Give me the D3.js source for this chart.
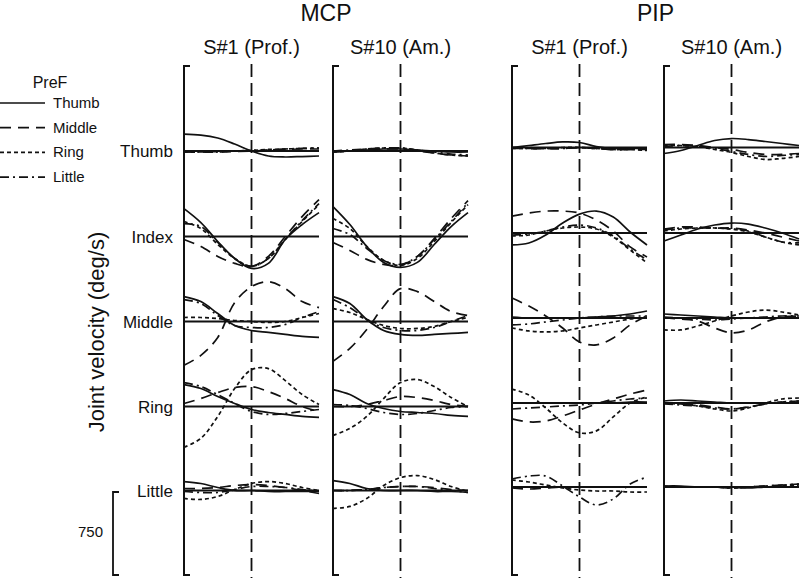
<!DOCTYPE html>
<html>
<meta charset="utf-8">
<head>
<title>joint velocity</title>
<script src="https://cdnjs.cloudflare.com/ajax/libs/d3/7.8.5/d3.min.js"></script>
<style>
body { margin:0; background:#fff; }
text { font-family: "Liberation Sans", Arial, sans-serif; fill:#111; }
</style>
</head>
<body>
<div id="chart"></div>
<script>

// time samples (% of movement, 0 = centre line)
var timePts = [-100, -75, -50, -25, 0, 25, 50, 75, 100];
var joints = ["MCP", "PIP"];
var subjects = ["S#1 (Prof.)", "S#10 (Am.)"];
var rows = ["Thumb", "Index", "Middle", "Ring", "Little"];
var preF = ["Thumb", "Middle", "Ring", "Little"];
var scaleBar = 750; // deg/s

// each row: [Thumb, Middle, Ring, Little] PreF curves, deg/s
var mcp1Thumb = [[153,144,117,63,0,-45,-54,-50,-45],[-9,-9,-9,-5,0,9,14,18,18],[-9,-9,-5,0,5,14,18,23,27],[-9,-9,-9,0,5,9,18,23,27]];
var mcp1Index = [[252,126,-45,-198,-288,-243,-27,108,216],[-27,-90,-180,-243,-270,-180,0,180,333],[135,72,-72,-198,-270,-198,-27,135,288],[117,90,-54,-198,-270,-198,-27,144,297]];
var mcp1Middle = [[225,180,72,-36,-81,-99,-117,-135,-144],[-396,-306,-144,171,315,360,297,180,126],[36,36,27,9,0,-9,0,36,72],[198,162,54,-36,-54,-54,-27,36,90]];
var mcp1Ring = [[198,162,90,27,-27,-54,-72,-90,-99],[27,72,126,171,180,135,72,0,-45],[-369,-288,-90,162,333,342,234,108,18],[216,180,108,27,-45,-72,-63,-45,-27]];
var mcp1Little = [[81,63,27,0,0,-9,-9,-9,-9],[18,18,27,45,54,45,27,0,-27],[-72,-81,-54,9,63,81,63,27,0],[-9,-18,-18,9,36,36,27,9,-9]];

var mcp10Thumb = [[-9,0,9,18,18,9,0,-9,-9],[-9,0,9,18,18,0,-18,-36,-45],[-9,0,18,27,27,9,-18,-36,-45],[0,9,18,27,27,9,-9,-27,-36]];
var mcp10Index = [[270,108,-90,-234,-279,-234,-72,90,216],[-54,-126,-207,-252,-261,-180,-18,162,324],[162,72,-90,-216,-261,-198,-45,126,288],[72,18,-108,-216,-252,-180,-27,135,306]];
var mcp10Middle = [[225,162,18,-81,-117,-126,-117,-108,-99],[-360,-243,-72,135,297,270,180,90,54],[117,81,18,-36,-63,-63,-45,0,36],[198,126,18,-54,-81,-81,-54,0,54]];
var mcp10Ring = [[153,108,27,-18,-45,-54,-63,-81,-90],[0,0,18,54,90,81,54,18,0],[-261,-198,-90,72,216,243,180,81,0],[18,9,-18,-54,-72,-63,-36,-9,0]];
var mcp10Little = [[90,63,18,0,0,0,-9,-9,-18],[0,0,9,27,36,36,27,9,0],[-162,-144,-72,45,117,135,99,36,-9],[0,0,9,27,36,36,18,0,-18]];

var pip1Thumb = [[0,18,36,50,45,9,-9,-9,-9],[-9,-9,-9,-9,0,-9,-18,-18,-18],[-9,-9,-9,0,0,-9,-18,-18,-27],[0,-9,-9,-9,0,-9,-18,-18,-18]];
var pip1Index = [[-108,-90,-18,90,171,198,144,9,-108],[153,180,198,198,180,117,18,-126,-216],[-27,-18,18,45,54,36,-36,-153,-270],[-18,-9,18,54,72,45,-27,-144,-243]];
var pip1Middle = [[9,0,0,0,0,9,18,36,63],[180,108,18,-90,-216,-243,-180,-63,18],[-90,-117,-126,-117,-90,-63,-36,-9,9],[-63,-54,-36,-18,0,9,18,18,18]];
var pip1Ring = [[0,0,0,0,0,0,0,9,9],[-144,-171,-162,-117,-63,-9,36,81,117],[126,72,-45,-180,-270,-252,-126,0,54],[-54,-45,-36,-27,-18,0,18,36,45]];
var pip1Little = [[0,0,0,0,0,0,0,0,0],[-9,-18,-9,0,0,0,0,0,0],[63,45,18,-9,-27,-36,-36,-45,-45],[72,99,99,9,-90,-162,-108,27,90]];

var pip10Thumb = [[-54,-27,18,63,81,72,54,36,18],[27,27,18,0,-18,-45,-63,-63,-54],[18,18,9,-18,-45,-81,-108,-99,-81],[9,18,9,-9,-36,-63,-81,-72,-63]];
var pip10Index = [[-72,-18,36,72,90,81,45,0,-54],[36,54,54,45,45,27,0,-36,-72],[18,36,45,45,36,9,-36,-81,-108],[27,45,45,45,36,18,-36,-81,-90]];
var pip10Middle = [[36,27,18,9,0,0,0,0,0],[0,-9,-27,-90,-135,-108,-36,9,18],[-108,-108,-72,-27,18,54,72,54,27],[9,0,-9,-18,-9,0,9,18,18]];
var pip10Ring = [[18,27,18,9,0,0,0,0,0],[0,-9,-18,-36,-54,-36,-9,9,18],[0,-9,-27,-54,-72,-45,0,36,45],[-9,-18,-27,-45,-54,-36,-9,9,18]];
var pip10Little = [[9,9,0,0,0,-9,0,0,0],[0,0,0,0,-9,0,9,18,27],[9,0,0,0,-9,0,0,9,18],[0,0,0,0,-9,0,9,18,27]];

var panels = [
	{joint:0, subj:0, rows:[mcp1Thumb, mcp1Index, mcp1Middle, mcp1Ring, mcp1Little]},
	{joint:0, subj:1, rows:[mcp10Thumb, mcp10Index, mcp10Middle, mcp10Ring, mcp10Little]},
	{joint:1, subj:0, rows:[pip1Thumb, pip1Index, pip1Middle, pip1Ring, pip1Little]},
	{joint:1, subj:1, rows:[pip10Thumb, pip10Index, pip10Middle, pip10Ring, pip10Little]}
];

var dashes = ["none", "11,7", "4,3", "9,4,2,4"];

var width = 800, height = 578;
var panelLeft = [184, 333, 512, 664];
var panelW = 135;
var yTop = 66, yBottom = 575;
var rowBase = [151, 236.5, 321.5, 406.5, 490.5];
var jointShift = [0, -3.5];

var svg = d3.select("#chart").append("svg")
	.attr("width", width)
	.attr("height", height);

var xScale = d3.scaleLinear().domain(d3.extent(timePts)).range([0, panelW]);
// deg/s -> pixel offset (750 deg/s = 83 px)
var yScale = d3.scaleLinear().domain([0, scaleBar]).range([0, -83]);

var line = d3.line()
	.x(function(d, i){ return xScale(timePts[i]); })
	.y(function(d){ return yScale(d); })
	.curve(d3.curveCatmullRom.alpha(0.5));

panels.forEach(function(p, pi){
	var g = svg.append("g")
		.attr("transform", "translate(" + panelLeft[pi] + ",0)");

	// bracket axis
	g.append("path")
		.attr("d", "M6," + yTop + "H0V" + yBottom + "H6")
		.attr("fill", "none")
		.attr("stroke", "#111")
		.attr("stroke-width", 2);

	// centre dashed line
	g.append("line")
		.attr("x1", xScale(0)).attr("x2", xScale(0))
		.attr("y1", yTop - 2).attr("y2", height)
		.attr("stroke", "#111")
		.attr("stroke-width", 1.8)
		.attr("stroke-dasharray", "13,6");

	p.rows.forEach(function(series, ri){
		var rg = g.append("g")
			.attr("transform", "translate(0," + (rowBase[ri] + jointShift[p.joint]) + ")");

		rg.append("line")
			.attr("x1", 0).attr("x2", panelW)
			.attr("y1", yScale(0)).attr("y2", yScale(0))
			.attr("stroke", "#111")
			.attr("stroke-width", 1.8);

		rg.selectAll(".curve")
			.data(series)
			.enter()
			.append("path")
			.attr("class", "curve")
			.attr("d", line)
			.attr("fill", "none")
			.attr("stroke", "#111")
			.attr("stroke-width", 1.7)
			.attr("stroke-dasharray", function(d, i){ return dashes[i]; });
	});

	// subtitle
	svg.append("text")
		.attr("x", panelLeft[pi] + xScale(0))
		.attr("y", 54)
		.attr("text-anchor", "middle")
		.attr("font-size", 20)
		.text(subjects[p.subj]);
});

// joint titles
joints.forEach(function(j, ji){
	var cx = (panelLeft[ji * 2] + xScale(0) + panelLeft[ji * 2 + 1] + xScale(0)) / 2;
	svg.append("text")
		.attr("x", cx)
		.attr("y", 21)
		.attr("text-anchor", "middle")
		.attr("font-size", 23)
		.text(j);
});

// row labels
rows.forEach(function(r, ri){
	svg.append("text")
		.attr("x", 173)
		.attr("y", rowBase[ri] + 6)
		.attr("text-anchor", "end")
		.attr("font-size", 17)
		.text(r);
});

// y label
svg.append("text")
	.attr("transform", "translate(104,332) rotate(-90)")
	.attr("text-anchor", "middle")
	.attr("font-size", 22)
	.text("Joint velocity (deg/s)");

// scale bar
svg.append("path")
	.attr("d", "M119," + (yBottom + yScale(scaleBar)) + "H113V" + yBottom + "H119")
	.attr("fill", "none")
	.attr("stroke", "#111")
	.attr("stroke-width", 1.8);
svg.append("text")
	.attr("x", 103)
	.attr("y", 537)
	.attr("text-anchor", "end")
	.attr("font-size", 15)
	.text(scaleBar);

// legend
svg.append("text")
	.attr("x", 50)
	.attr("y", 88)
	.attr("text-anchor", "middle")
	.attr("font-size", 16)
	.text("PreF");

var leg = svg.selectAll(".leg")
	.data(preF)
	.enter()
	.append("g")
	.attr("class", "leg")
	.attr("transform", function(d, i){ return "translate(0," + (103 + i * 24.7) + ")"; });

leg.append("line")
	.attr("x1", 0).attr("x2", 45)
	.attr("stroke", "#111")
	.attr("stroke-width", 1.7)
	.attr("stroke-dasharray", function(d, i){ return dashes[i]; });

leg.append("text")
	.attr("x", 53)
	.attr("y", 5)
	.attr("font-size", 15)
	.text(function(d){ return d; });

</script>
</body>
</html>
